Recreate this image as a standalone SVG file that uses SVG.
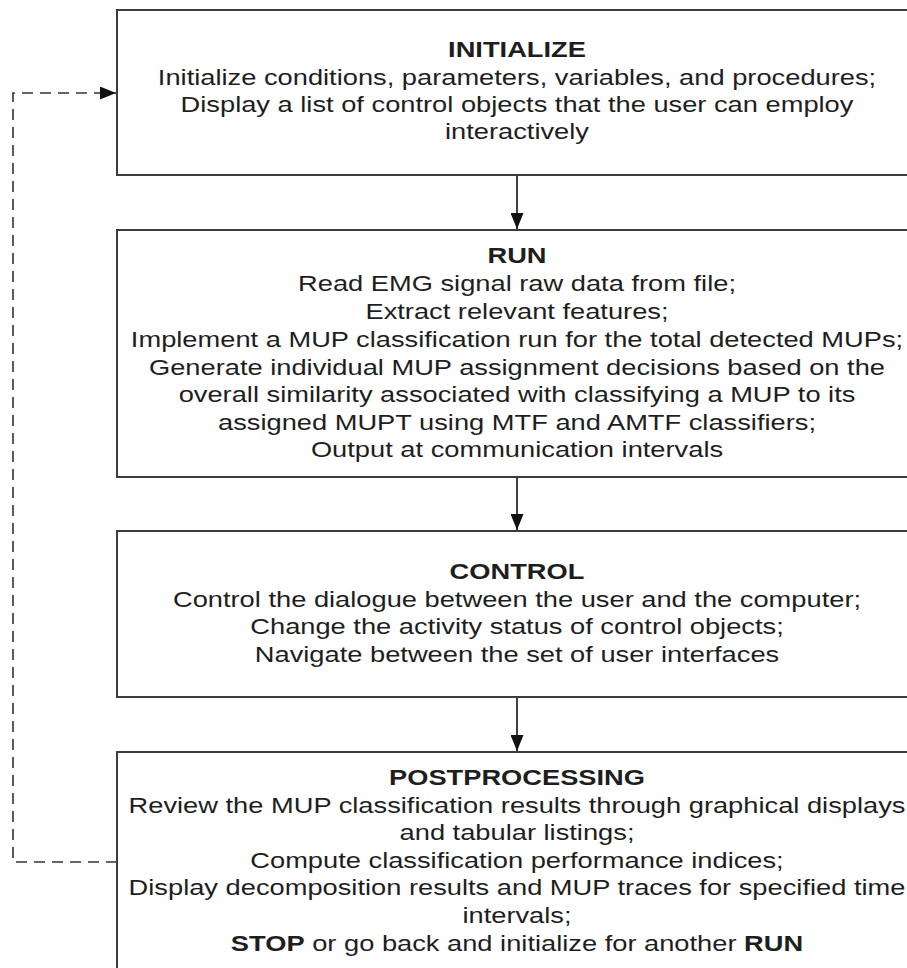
<svg xmlns="http://www.w3.org/2000/svg" width="907" height="968" viewBox="0 0 907 968">
<style>
  .box { fill: #ffffff; stroke: #3c3c3c; stroke-width: 2; }
  text { font-family: "Liberation Sans", Arial, sans-serif; font-size: 22px; fill: #1e1e1e; text-anchor: middle; }
  .h { font-weight: bold; }
  .b { font-weight: bold; }
  .flow { stroke: #111; stroke-width: 1.6; fill: none; }
  .back { stroke: #333; stroke-width: 1.6; fill: none; stroke-dasharray: 11 7; }
</style>
<defs>
  <marker id="ah" viewBox="0 0 16 13" refX="16" refY="6.5" markerWidth="16" markerHeight="13" markerUnits="userSpaceOnUse" orient="auto">
    <path d="M0,0 L16,6.5 L0,13 Z" fill="#111"/>
  </marker>
</defs>
<rect width="907" height="968" fill="#ffffff"/>

<g id="connectors">
  <path class="flow" d="M517,175 V229" marker-end="url(#ah)"/>
  <path class="flow" d="M517,477 V530" marker-end="url(#ah)"/>
  <path class="flow" d="M517,697 V751" marker-end="url(#ah)"/>
  <path class="back" d="M117,862 H13 V93 H116" marker-end="url(#ah)"/>
</g>

<g id="initialize">
  <rect class="box" x="117" y="10" width="810" height="165"/>
  <g transform="translate(517 0) scale(1.24 1)">
    <text class="h" x="0" y="57">INITIALIZE</text>
    <text x="0" y="85">Initialize conditions, parameters, variables, and procedures;</text>
    <text x="0" y="112">Display a list of control objects that the user can employ</text>
    <text x="0" y="139">interactively</text>
  </g>
</g>

<g id="run">
  <rect class="box" x="117" y="230" width="810" height="247"/>
  <g transform="translate(517 0) scale(1.24 1)">
    <text class="h" x="0" y="263">RUN</text>
    <text x="0" y="291">Read EMG signal raw data from file;</text>
    <text x="0" y="319">Extract relevant features;</text>
    <text x="0" y="347">Implement a MUP classification run for the total detected MUPs;</text>
    <text x="0" y="375">Generate individual MUP assignment decisions based on the</text>
    <text x="0" y="402">overall similarity associated with classifying a MUP to its</text>
    <text x="0" y="430">assigned MUPT using MTF and AMTF classifiers;</text>
    <text x="0" y="457">Output at communication intervals</text>
  </g>
</g>

<g id="control">
  <rect class="box" x="117" y="531" width="810" height="166"/>
  <g transform="translate(517 0) scale(1.24 1)">
    <text class="h" x="0" y="579">CONTROL</text>
    <text x="0" y="607">Control the dialogue between the user and the computer;</text>
    <text x="0" y="634">Change the activity status of control objects;</text>
    <text x="0" y="662">Navigate between the set of user interfaces</text>
  </g>
</g>

<g id="postprocessing">
  <rect class="box" x="117" y="752" width="810" height="240"/>
  <g transform="translate(517 0) scale(1.24 1)">
    <text class="h" x="0" y="785">POSTPROCESSING</text>
    <text x="0" y="813">Review the MUP classification results through graphical displays</text>
    <text x="0" y="840">and tabular listings;</text>
    <text x="0" y="868">Compute classification performance indices;</text>
    <text x="0" y="895">Display decomposition results and MUP traces for specified time</text>
    <text x="0" y="923">intervals;</text>
    <text x="0" y="951"><tspan class="b">STOP</tspan> or go back and initialize for another <tspan class="b">RUN</tspan></text>
  </g>
</g>
</svg>
